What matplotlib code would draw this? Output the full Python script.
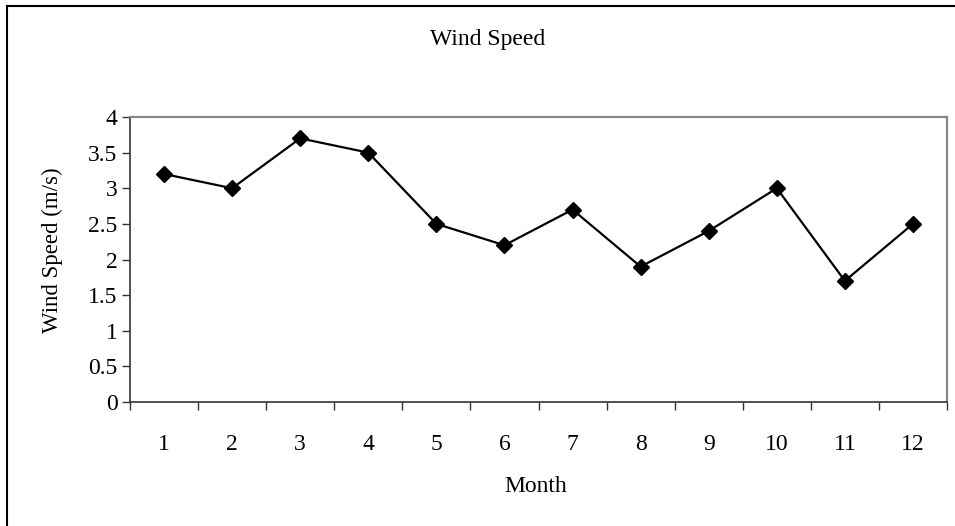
import matplotlib
matplotlib.use("Agg")
import matplotlib.pyplot as plt
import numpy as np
from matplotlib.lines import Line2D

months = [1, 2, 3, 4, 5, 6, 7, 8, 9, 10, 11, 12]
wind_speed = [3.2, 3.0, 3.7, 3.5, 2.5, 2.2, 2.7, 1.9, 2.4, 3.0, 1.7, 2.5]
y_ticks = [0, 0.5, 1, 1.5, 2, 2.5, 3, 3.5, 4]

plt.rcParams['font.family'] = ['Liberation Serif', 'DejaVu Serif']

W, H = 955, 526
fig = plt.figure(figsize=(W / 100, H / 100), dpi=100)
ax = fig.add_axes([130/W, 1 - 402/H, 817/W, 285/H])

x = np.arange(len(months))
ax.plot(x, wind_speed, color='black', lw=1.6, marker='D', markersize=8,
        markerfacecolor='black', markeredgecolor='black')

ax.set_xlim(-0.5, len(months) - 0.5)
ax.set_ylim(0, 4)
ax.set_yticks(y_ticks)
ax.set_yticklabels([f"{t:g}" for t in y_ticks], fontsize=17)
ax.set_xticks(x)
ax.set_xticklabels([str(m) for m in months], fontsize=17)
# category boundaries get the tick marks, like excel
ax.set_xticks(np.arange(-0.5, len(months)), minor=True)
ax.tick_params(axis='x', which='major', length=0, pad=23)
ax.tick_params(axis='x', which='minor', length=6, width=1, color='#333333', direction='out')
ax.tick_params(axis='y', length=6, width=1, color='#333333', direction='out', pad=3)

for side in ['top', 'right']:
    ax.spines[side].set_color('#888888')
    ax.spines[side].set_linewidth(1.6)
for side in ['left', 'bottom']:
    ax.spines[side].set_color('#333333')
    ax.spines[side].set_linewidth(1.2)

fig.text(488/W, 1 - 40/H, 'Wind Speed', ha='center', va='center', fontsize=17)
fig.text(536/W, 1 - 486/H, 'Month', ha='center', va='center', fontsize=17)
fig.text(52/W, 1 - 250/H, 'Wind Speed (m/s)', ha='center', va='center',
         rotation=90, fontsize=16.5)

# outer chart border, only left and top edges show
fig.add_artist(Line2D([7/W, 7/W], [0, 1 - 6/H], color='black', lw=1.5, transform=fig.transFigure))
fig.add_artist(Line2D([7/W, 1], [1 - 6/H, 1 - 6/H], color='black', lw=1.5, transform=fig.transFigure))

fig.savefig('out.png', dpi=100)
